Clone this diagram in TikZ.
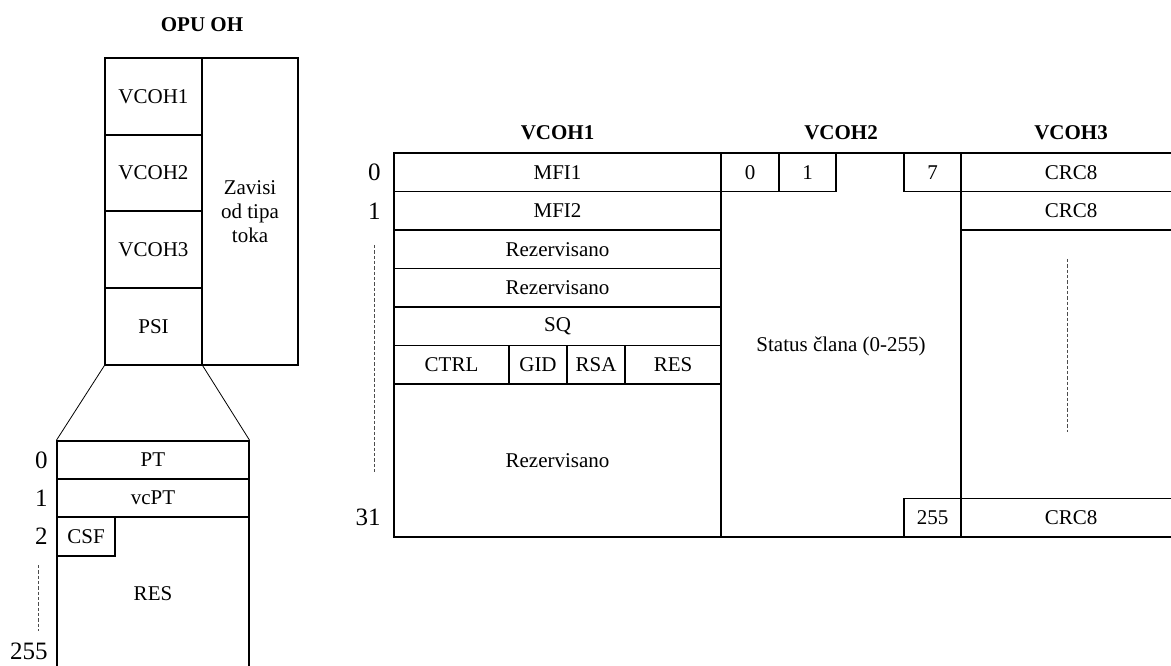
\documentclass[tikz,border=0pt]{standalone}
\usepackage{fontspec}
\setmainfont{Liberation Serif}
\usetikzlibrary{fit}
\newcommand\cellfont{\fontsize{15.75}{18}\selectfont}
\newcommand\rowfont{\fontsize{18.75}{22}\selectfont}
\begin{document}
\begin{tikzpicture}[x=0.75pt,y=-0.75pt,
  cell/.style={draw, line width=0.95pt, inner sep=0pt},
  every label/.style={inner sep=0pt, font=\cellfont, align=center},
  txt/.style={inner sep=0pt, font=\cellfont},
  hdr/.style={inner sep=0pt, font=\cellfont\bfseries},
  rowlbl/.style={inner sep=0pt, font=\rowfont, anchor=east},
  dots/.style={draw=black!70, line width=0.5pt, dash pattern=on 2.5pt off 1.5pt},
  fan/.style={draw, line width=0.6pt}]
\useasboundingbox (0,0) rectangle (1171,666);
\clip (0,0) rectangle (1171,666);

% ---- OPU OH block
\node[hdr] (opuoh) at (202,25) {OPU OH};
\node[cell, fit={(105,58) (202,135)}, label=center:VCOH1] (v1) {};
\node[cell, fit={(105,135) (202,211)}, label=center:VCOH2] (v2) {};
\node[cell, fit={(105,211) (202,288)}, label=center:VCOH3] (v3) {};
\node[cell, fit={(105,288) (202,365)}, label=center:PSI] (psi) {};
\node[cell, fit={(202,58) (298,365)}, label={center:Zavisi\\od tipa\\toka}] (zav) {};

% ---- PSI expansion
\node[cell, fit={(57,441) (249,479)}, label=center:PT] (pt) {};
\node[cell, fit={(57,479) (249,517)}, label=center:vcPT] (vcpt) {};
\node[cell, fit={(57,517) (249,700)}] (resbox) {};
\node[cell, fit={(57,517) (115,556)}, label=center:CSF] (csf) {};
\node[txt] (res) at (153,594) {RES};
\draw[fan] (psi.south west) -- (pt.north west);
\draw[fan] (psi.south east) -- (pt.north east);

\node[rowlbl] (l0) at (48,460) {0};
\node[rowlbl] (l1) at (48,498) {1};
\node[rowlbl] (l2) at (48,536.5) {2};
\node[rowlbl] (l255) at (48,651) {255};
\coordinate (ld1) at (38,565);
\coordinate (ld2) at (38,631);
\draw[dots] (ld1) -- (ld2);

% ---- headers
\node[hdr] (h1) at (557.5,133) {VCOH1};
\node[hdr] (h2) at (841,133) {VCOH2};
\node[hdr] (h3) at (1071,133) {VCOH3};

% ---- VCOH1 column
\node[cell, fit={(394,153) (721,191.5)}, label=center:MFI1] (mfi1) {};
\node[cell, fit={(394,191.5) (721,230)}, label=center:MFI2] (mfi2) {};
\node[cell, fit={(394,230) (721,268.5)}, label=center:Rezervisano] (rez1) {};
\node[cell, fit={(394,268.5) (721,307)}, label=center:Rezervisano] (rez2) {};
\node[cell, fit={(394,307) (721,345.5)}, label=center:SQ] (sq) {};
\node[cell, fit={(394,345.5) (509,384)}, label=center:CTRL] (ctrl) {};
\node[cell, fit={(509,345.5) (567,384)}, label=center:GID] (gid) {};
\node[cell, fit={(567,345.5) (625,384)}, label=center:RSA] (rsa) {};
\node[cell, fit={(625,345.5) (721,384)}, label=center:RES] (res2) {};
\node[cell, fit={(394,384) (721,537)}, label=center:Rezervisano] (rez3) {};

\node[rowlbl] (r0) at (381,172) {0};
\node[rowlbl] (r1) at (381,211) {1};
\node[rowlbl] (r31) at (381,517) {31};
\coordinate (rd1) at (374.5,245);
\coordinate (rd2) at (374.5,474);
\draw[dots] (rd1) -- (rd2);

% ---- VCOH2 column
\node[cell, fit={(721,153) (961,537)}] (vc2) {};
\node[cell, fit={(721,153) (779,191.5)}, label=center:0] (b0) {};
\node[cell, fit={(779,153) (836,191.5)}, label=center:1] (b1) {};
\node[cell, fit={(904,153) (961,191.5)}, label=center:7] (b7) {};
\node[cell, fit={(904,498.5) (961,537)}, label=center:255] (b255) {};
\node[txt] (status) at (841,346) {Status člana (0-255)};

% ---- VCOH3 column
\node[cell, fit={(961,153) (1181,537)}] (vc3) {};
\node[cell, fit={(961,153) (1181,191.5)}, label=center:CRC8] (crc1) {};
\node[cell, fit={(961,191.5) (1181,230)}, label=center:CRC8] (crc2) {};
\node[cell, fit={(961,498.5) (1181,537)}, label=center:CRC8] (crc3) {};
\coordinate (cd1) at (1067,259);
\coordinate (cd2) at (1067,432);
\draw[dots] (cd1) -- (cd2);
\end{tikzpicture}
\end{document}
